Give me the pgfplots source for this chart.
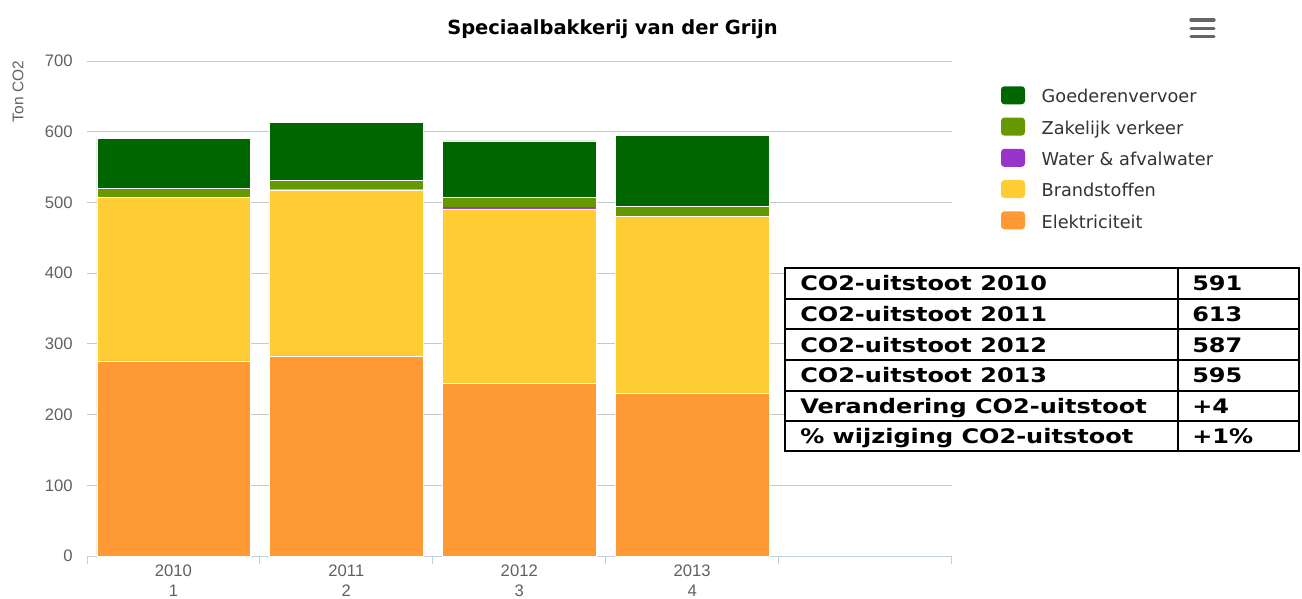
\documentclass[border=0pt]{standalone}
\usepackage{pgfplots}
\pgfplotsset{compat=1.18}
\usepackage{graphicx}
\usepackage{fontspec}
\setmainfont{Liberation Sans}
\newfontfamily\dejavu{DejaVu Sans}
\definecolor{goed}{HTML}{006600}
\definecolor{zak}{HTML}{669900}
\definecolor{water}{HTML}{9933CC}
\definecolor{brand}{HTML}{FFCC33}
\definecolor{elek}{HTML}{FF9933}
\definecolor{tickgray}{HTML}{606060}
\definecolor{legendtext}{HTML}{333333}
\definecolor{gridgray}{HTML}{C8C8C8}
\definecolor{axisblue}{HTML}{C0D0E0}
\definecolor{hamb}{HTML}{666666}
\begin{document}
\begin{tikzpicture}
\begin{scope}[x=0.75pt,y=-0.75pt]
\path[use as bounding box] (0,0) rectangle (1302,599);
\node[anchor=base, inner sep=0pt, font=\dejavu\bfseries\fontsize{14.6}{17}\selectfont] at (612.5,35) {Speciaalbakkerij van der Grijn};
\foreach \yy in {20,28.3,36.7} \draw[hamb, line width=2.5pt, line cap=round] (1191,\yy) -- (1214,\yy);
\node[rotate=90, inner sep=0pt, font=\fontsize{11.6}{14}\selectfont, text=tickgray] at (18,91.5) {Ton CO2};
\end{scope}
\begin{axis}[
  at={(65.25pt,-417pt)}, anchor=south west,
  scale only axis, width=648.4pt, height=371.25pt,
  ybar stacked, bar width=0.887,
  every axis plot post/.append style={legend image code/.code={%
    \fill[##1, draw=none, rounded corners=2.5pt] (0pt,-4.25pt) rectangle (18pt,9.25pt);}},
  xmin=-0.5, xmax=4.5, ymin=0, ymax=700,
  enlargelimits=false,
  xtick={0,1,2,3}, xticklabels={{2010\\1},{2011\\2},{2012\\3},{2013\\4}},
  minor xtick={-0.5,0.5,1.5,2.5,3.5,4.5},
  ytick={0,100,...,700},
  major tick length=0pt, minor tick length=6pt, tick align=outside,
  minor tick style={draw=axisblue, line width=0.75pt},
  axis x line*=bottom, axis y line*=left,
  x axis line style={draw=axisblue, line width=0.75pt, -},
  y axis line style={draw=none},
  ymajorgrids, grid style={draw=gridgray, line width=0.75pt},
  tick label style={font=\fontsize{12.5}{15}\selectfont, text=tickgray},
  x tick label style={align=center, inner sep=0pt, yshift=-6.75pt},
  y tick label style={inner sep=0pt, xshift=-10.5pt},
  /pgf/number format/assume math mode=true,
  legend style={at={(axis description cs:1.0569,0.9495)}, anchor=north west,
    draw=none, fill=none, inner sep=0pt, row sep=7.45pt,
    font=\dejavu\fontsize{13.3}{16}\selectfont, text=legendtext,
    nodes={inner sep=0pt, text height=10pt, text depth=3.5pt},
    /tikz/every odd column/.append style={column sep=12.5pt}},
  legend cell align=left,
  reverse legend,
]
\addplot[fill=elek, draw=white, line width=0.3pt] coordinates {(0,276) (1,283) (2,245) (3,230)};
\addplot[fill=brand, draw=white, line width=0.3pt] coordinates {(0,231) (1,235) (2,246) (3,250)};
\addplot[fill=water, draw=none] coordinates {(0,0) (1,0) (2,2) (3,0)};
\addplot[fill=zak, draw=white, line width=0.3pt] coordinates {(0,13) (1,13) (2,14) (3,14)};
\addplot[fill=goed, draw=white, line width=0.3pt] coordinates {(0,71) (1,82) (2,80) (3,101)};
\legend{Elektriciteit, Brandstoffen, Water \& afvalwater, Zakelijk verkeer, Goederenvervoer}
\end{axis}
\begin{scope}[x=0.75pt,y=-0.75pt]
\fill[white] (785,268) rectangle (1300,451);
\draw[line width=1.5pt] (785,268) rectangle (1299,451);
\foreach \yy in {298.5,329,360,390.5,421} \draw[line width=1.5pt] (785,\yy)--(1299,\yy);
\draw[line width=1.5pt] (1178,268)--(1178,451);
\tikzset{tl/.style={anchor=base west, inner sep=0pt, font=\dejavu\bfseries\fontsize{15}{17}\selectfont}}
\node[tl] at (800,290.5) {\scalebox{1.2}[1]{CO2-uitstoot 2010}};
\node[tl] at (800,321.25) {\scalebox{1.2}[1]{CO2-uitstoot 2011}};
\node[tl] at (800,352) {\scalebox{1.2}[1]{CO2-uitstoot 2012}};
\node[tl] at (800,382.5) {\scalebox{1.2}[1]{CO2-uitstoot 2013}};
\node[tl] at (800,413.25) {\scalebox{1.2}[1]{Verandering CO2-uitstoot}};
\node[tl] at (800,443.5) {\scalebox{1.2}[1]{\% wijziging CO2-uitstoot}};
\node[tl] at (1192,290.5) {\scalebox{1.2}[1]{591}};
\node[tl] at (1192,321.25) {\scalebox{1.2}[1]{613}};
\node[tl] at (1192,352) {\scalebox{1.2}[1]{587}};
\node[tl] at (1192,382.5) {\scalebox{1.2}[1]{595}};
\node[tl] at (1192,413.25) {\scalebox{1.2}[1]{+4}};
\node[tl] at (1192,443.5) {\scalebox{1.2}[1]{+1\%}};
\end{scope}
\end{tikzpicture}
\end{document}
